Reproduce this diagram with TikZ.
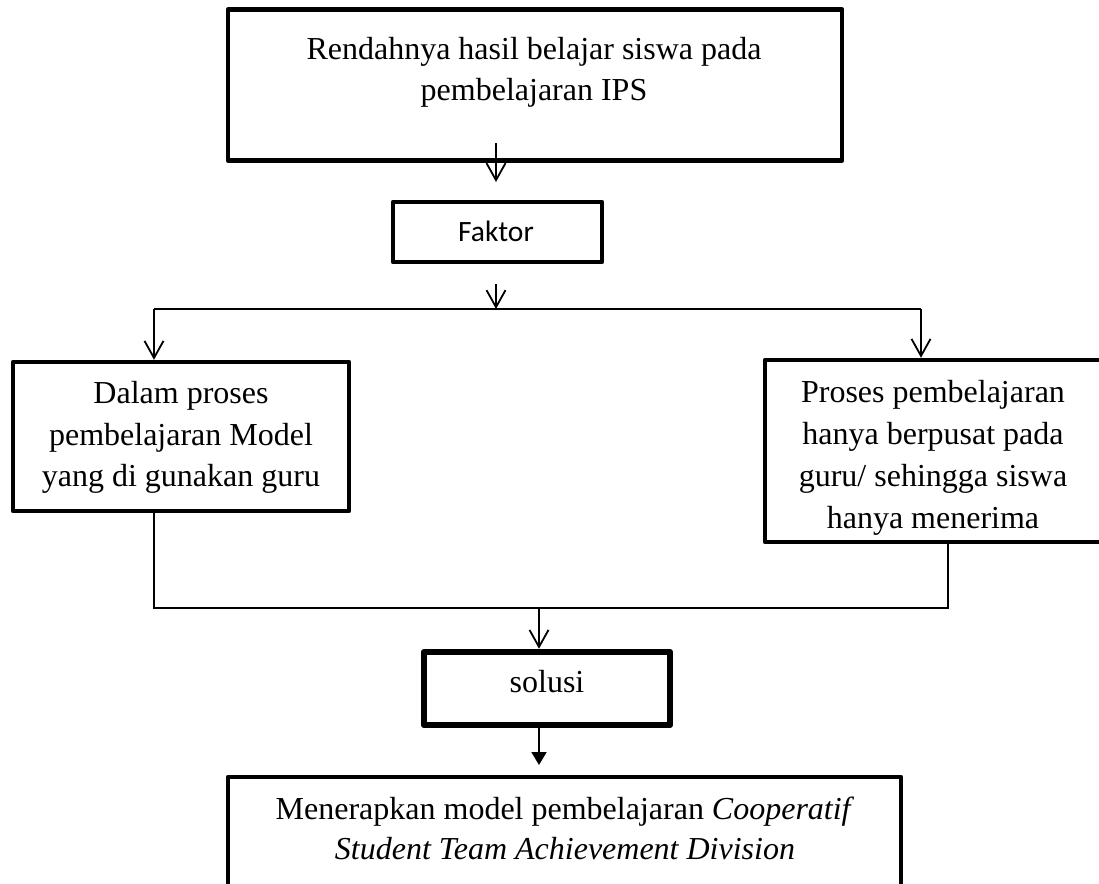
\documentclass[tikz,border=0pt]{standalone}
\usepackage{fontspec}
\setmainfont{Liberation Serif}
\newfontfamily\calibrifont{Carlito}
\usetikzlibrary{arrows.meta}
\begin{document}
\begin{tikzpicture}[x=1pt,y=-1pt,
  box/.style={draw,rectangle,inner sep=0pt,line width=4.5pt,line join=round},
  conn/.style={line width=1.8pt},
  openhead/.style={-{Straight Barb[length=17pt,width=19pt]}},
  fillhead/.style={-{Triangle[length=13pt,width=15pt]}},
  txt/.style={align=center,inner sep=0pt,font=\fontsize{32}{41.5}\selectfont}
]
\useasboundingbox (0,0) rectangle (1099,883);
\fill[white] (0,0) rectangle (1099,883);

% boxes
\node[box,minimum width=614pt,minimum height=151pt] (top) at (535,85) {};
\node[box,minimum width=209pt,minimum height=60pt] (faktor) at (497.5,232) {};
\node[box,minimum width=336pt,minimum height=149pt] (left) at (181,436.5) {};
\node[box,minimum width=345pt,minimum height=182pt] (right) at (937.5,451) {};
\node[box,line width=6.5pt,minimum width=246pt,minimum height=73pt] (sol) at (547,688.5) {};
\node[box,minimum width=673pt,minimum height=123pt] (bot) at (564.5,838.5) {};

% texts
\node[txt] (toptxt) at (534,72.5) {Rendahnya hasil belajar siswa pada\\pembelajaran IPS};
\node[anchor=base,inner sep=0pt,font=\calibrifont\fontsize{29.5}{35}\selectfont] (faktortxt) at (496,241) {Faktor};
\node[txt] (lefttxt) at (181,437.5) {Dalam proses\\pembelajaran Model\\yang di gunakan guru};
\node[txt,font=\fontsize{32}{42}\selectfont] (righttxt) at (933,457.5) {Proses pembelajaran\\hanya berpusat pada\\guru/ sehingga siswa\\hanya menerima};
\node[anchor=base,inner sep=0pt,font=\fontsize{32}{40}\selectfont] (soltxt) at (547,692) {solusi};
\node[txt,font=\fontsize{32}{40}\selectfont] (bottxt) at (565,828) {Menerapkan model pembelajaran \textit{Cooperatif}\\\textit{Student Team Achievement Division}};

% connectors
\coordinate (a1s) at (496,143);
\coordinate (a1e) at (496,182);
\draw[conn,openhead] (a1s) -- (a1e);
\coordinate (a2s) at (496,284);
\coordinate (hl) at (154,309);
\coordinate (hr) at (921,309);
\draw[conn,openhead] (a2s) -- (a2s |- hl);
\draw[conn] (hl) -- (hr);
\draw[conn,openhead] (hl) -- (hl |- left.north);
\draw[conn,openhead] (hr) -- (hr |- right.north);
\coordinate (bl) at (154,608);
\coordinate (br) at (948,608);
\draw[conn] (left.south -| bl) -- (bl) -- (br) -- (right.south -| br);
\coordinate (m) at (539,608);
\draw[conn,openhead] (m) -- (m |- sol.north);
\coordinate (a6e) at (539,765);
\draw[conn,fillhead] (sol.south -| m) -- (a6e);
\end{tikzpicture}
\end{document}
